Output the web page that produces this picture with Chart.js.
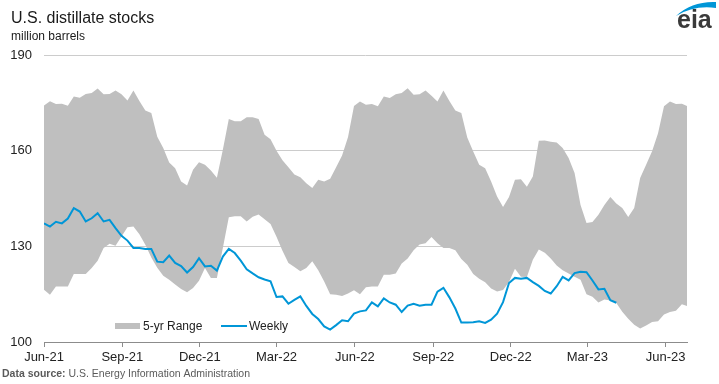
<!DOCTYPE html>
<html>
<head>
<meta charset="utf-8">
<script src="https://cdn.jsdelivr.net/npm/chart.js@4.4.0/dist/chart.umd.min.js"></script>
<style>
  html, body { margin: 0; padding: 0; background: #fff; }
  #wrap { width: 719px; height: 384px; }
</style>
</head>
<body>
<div id="wrap"><canvas id="chart" width="719" height="384"></canvas></div>
<script>
// x axis: quarter ticks
const tickLabels = ['Jun-21','Sep-21','Dec-21','Mar-22','Jun-22','Sep-22','Dec-22','Mar-23','Jun-23'];
const tickDates  = ['2021-06-01','2021-09-01','2021-12-01','2022-03-01','2022-06-01','2022-09-01','2022-12-01','2023-03-01','2023-06-01'];
const yTicks = [100, 130, 160, 190];
const firstWeek = '2021-06-01';
const lastWeek  = '2023-06-26';

// 5-yr range, low and high (million barrels), weekly
const rangeLow = [
  116.4,114.8,117.4,117.4,117.4,121.3,121.3,121.3,123.2,125.5,
  129.5,130.8,130.2,133.1,136.0,136.2,133.8,130.5,126.5,123.3,
  120.8,119.5,118.0,116.6,115.6,116.9,119.2,123.2,120.1,120.1,
  129.5,139.1,139.4,139.4,137.8,139.3,140.0,138.5,137.0,133.0,
  128.6,124.8,123.5,122.2,123.2,125.3,122.5,119.0,115.0,114.8,
  114.4,115.2,116.2,115.0,117.2,117.4,117.4,121.1,121.1,121.5,
  124.6,126.2,128.8,130.6,131.0,132.9,131.0,129.5,129.5,128.8,
  126.0,124.2,121.3,119.8,118.7,116.8,115.8,116.3,118.8,123.0,
  120.5,120.4,125.8,129.0,128.0,126.2,124.0,122.5,121.5,120.5,
  119.5,115.0,114.2,112.4,113.3,113.0,112.2,109.5,107.3,105.4,
  104.2,105.2,106.3,106.5,108.6,109.4,109.8,111.8,111.2
];
const rangeHigh = [
  174.2,175.5,174.6,174.7,174.1,177.0,176.6,177.8,178.1,179.5,
  177.7,177.8,178.9,177.7,175.7,178.9,175.6,172.6,171.8,164.4,
  160.8,156.3,154.5,150.3,149.1,154.0,156.4,155.6,153.8,151.5,
  160.3,169.9,169.2,169.2,170.5,170.5,169.9,165.0,163.6,160.0,
  157.0,154.8,152.5,151.7,149.8,148.3,150.9,150.3,151.2,154.8,
  158.5,164.3,174.0,175.4,174.4,174.6,173.9,177.0,176.5,177.7,
  178.1,179.6,177.5,177.7,178.9,177.2,175.4,178.9,175.6,172.6,
  171.8,164.1,159.7,155.6,154.5,150.3,145.6,142.3,145.5,150.9,
  151.0,148.7,151.9,163.1,163.2,162.8,162.6,160.8,157.7,153.0,
  143.0,137.3,137.6,139.9,143.0,145.5,143.4,142.0,139.2,142.0,
  151.4,155.6,159.8,165.5,173.9,175.4,174.6,174.7,173.9
];
const weekly = [
  137.2,136.2,137.7,137.2,138.7,142.0,140.9,137.8,138.8,140.4,
  137.8,138.3,135.7,133.3,131.8,129.5,129.5,129.2,129.2,125.2,
  125.0,127.1,124.8,123.8,121.8,123.5,126.3,123.7,123.9,122.4,
  126.8,129.2,127.9,125.5,122.8,121.5,120.3,119.6,119.0,114.1,
  114.3,112.0,113.2,114.3,111.3,108.8,107.2,104.9,103.9,105.3,
  106.8,106.5,108.9,109.6,109.9,112.4,111.2,113.7,112.4,111.7,
  109.4,111.4,112.0,111.4,111.7,111.7,115.8,117.0,114.0,110.5,
  106.1,106.1,106.2,106.5,106.0,107.0,108.9,112.5,118.5,120.1,
  119.8,120.1,118.8,117.6,116.0,115.2,117.5,120.4,119.3,121.6,
  122.0,121.9,119.3,116.5,116.7,113.1,112.3
];

const FONT = '"Liberation Sans", Arial, sans-serif';
const BLUE = '#0096d7';
const GRAY = '#bfbfbf';

const t0 = Date.parse(firstWeek);
const dayOf = s => Math.round((Date.parse(s) - t0) / 86400000);
const tickDays = tickDates.map(dayOf);
// one value per week, x in days since first week
const pts = arr => arr.map((v, i) => ({ x: i * 7, y: v }));

const decor = {
  id: 'decor',
  afterDraw(chart) {
    const c = chart.ctx;
    c.save();
    c.textBaseline = 'alphabetic';
    c.fillStyle = '#1a1a1a';
    c.font = '16px ' + FONT;
    c.fillText('U.S. distillate stocks', 11, 23);
    c.font = '12px ' + FONT;
    c.fillText('million barrels', 11, 40);

    // legend
    c.fillStyle = GRAY;
    c.fillRect(115, 323, 25, 6);
    c.fillStyle = '#222';
    c.font = '12px ' + FONT;
    c.textBaseline = 'middle';
    c.fillText('5-yr Range', 143, 326.5);
    c.strokeStyle = BLUE;
    c.lineWidth = 2;
    c.beginPath(); c.moveTo(221, 326); c.lineTo(247, 326); c.stroke();
    c.fillText('Weekly', 249, 326.5);

    // source
    c.textBaseline = 'alphabetic';
    c.fillStyle = '#5a5a5a';
    c.font = 'bold 10.5px ' + FONT;
    c.fillText('Data source:', 2, 377);
    const w = c.measureText('Data source: ').width;
    c.font = '10.5px ' + FONT;
    c.fillText('U.S. Energy Information Administration', 2 + w, 377);

    // eia logo
    c.fillStyle = BLUE;
    c.beginPath();
    c.moveTo(676, 16);
    c.quadraticCurveTo(692, 1, 716, 2);
    c.lineTo(716, 8);
    c.quadraticCurveTo(694, 5, 676, 16);
    c.fill();
    c.fillStyle = '#3a3a3a';
    c.font = 'bold 25px ' + FONT;
    c.fillText('eia', 677, 28);
    c.restore();
  }
};

new Chart(document.getElementById('chart'), {
  type: 'line',
  data: {
    datasets: [
      { label: 'Weekly', data: pts(weekly), borderColor: BLUE, borderWidth: 2,
        pointRadius: 0, fill: false, tension: 0 },
      { label: 'low', data: pts(rangeLow), borderColor: 'rgba(0,0,0,0)', borderWidth: 0,
        pointRadius: 0, fill: false, tension: 0 },
      { label: '5-yr Range', data: pts(rangeHigh), borderColor: 'rgba(0,0,0,0)', borderWidth: 0,
        pointRadius: 0, fill: '-1', backgroundColor: GRAY, tension: 0 }
    ]
  },
  options: {
    responsive: false,
    animation: false,
    events: [],
    layout: { padding: { top: 55, right: 32, bottom: 0, left: 0 } },
    plugins: { legend: { display: false }, tooltip: { enabled: false } },
    scales: {
      x: {
        type: 'linear',
        min: 0,
        max: dayOf(lastWeek),
        afterBuildTicks: s => { s.ticks = tickDays.map(v => ({ value: v })); },
        afterFit: s => { s.height = 42; },
        grid: { drawOnChartArea: false, drawTicks: true, tickLength: 5, color: '#8c8c8c' },
        border: { display: true, color: '#8c8c8c', width: 1 },
        ticks: {
          autoSkip: false, maxRotation: 0, padding: 3, color: '#222',
          font: { family: FONT, size: 13 },
          callback: v => tickLabels[tickDays.indexOf(v)] ?? ''
        }
      },
      y: {
        min: 100,
        max: 190,
        afterBuildTicks: s => { s.ticks = yTicks.map(v => ({ value: v })); },
        afterFit: s => { s.width = 44; },
        grid: { drawTicks: false, color: c => c.tick && c.tick.value === 100 ? 'rgba(0,0,0,0)' : '#cccccc' },
        border: { display: false },
        ticks: { padding: 12, color: '#222', font: { family: FONT, size: 13 } }
      }
    }
  },
  plugins: [decor]
});
</script>
</body>
</html>
